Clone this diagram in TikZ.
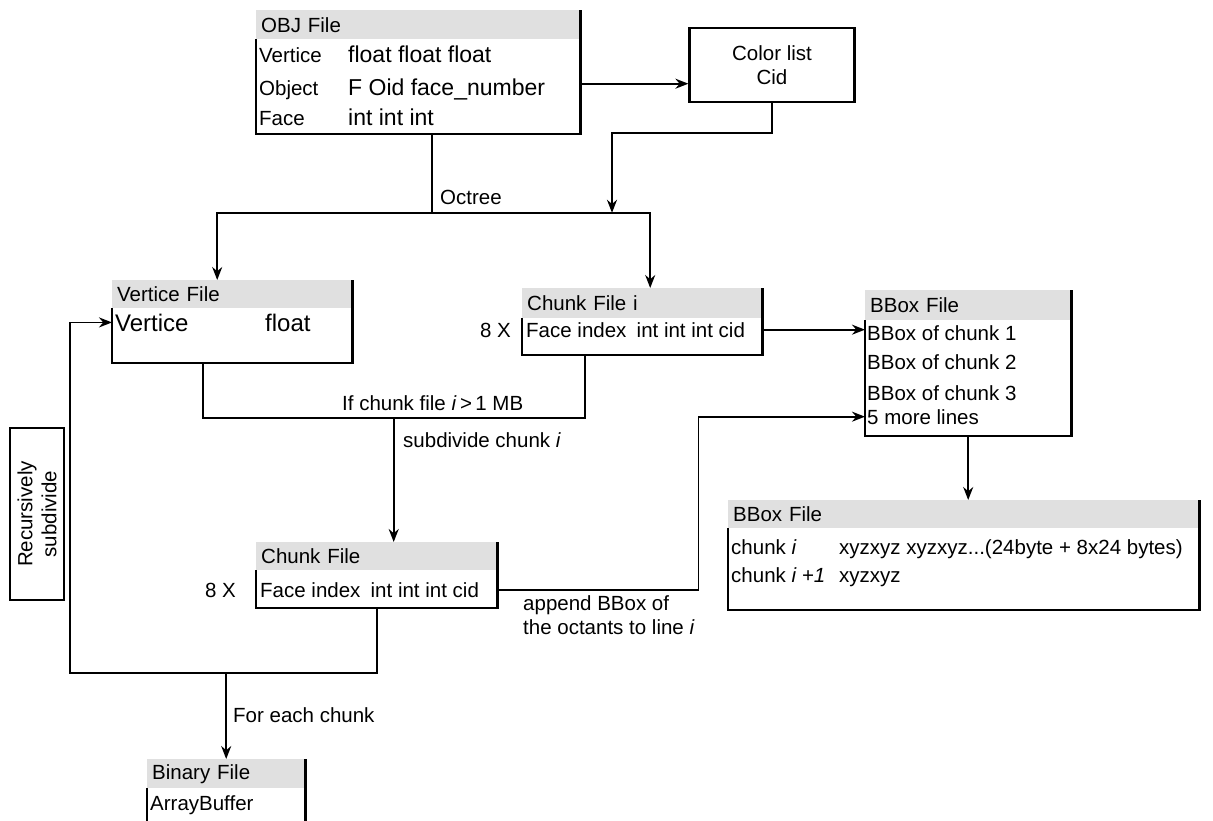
\documentclass[tikz,border=0pt]{standalone}
\usepackage{fontspec}
\setmainfont{Liberation Sans}
\usetikzlibrary{arrows.meta,positioning}
\definecolor{headgray}{HTML}{E0E0E0}
\newcommand{\fnorm}{\fontsize{20.5}{24}\selectfont}
\newcommand{\fmid}{\fontsize{23}{27}\selectfont}
\newcommand{\fbig}{\fontsize{24}{28}\selectfont}
\tikzset{
  head/.style={fill=headgray, anchor=north west, inner xsep=5pt, inner ysep=0pt,
    minimum height=29pt, align=left, font=\fnorm},
  body/.style={anchor=north west, inner sep=0pt},
  frame/.style={line width=2.2pt},
  txt/.style={anchor=base west, inner sep=0pt, font=\fnorm},
  midtxt/.style={anchor=base west, inner sep=0pt, font=\fmid},
  bigtxt/.style={anchor=base west, inner sep=0pt, font=\fbig},
  link/.style={line width=1.8pt},
  arr/.style={line width=1.8pt, -{Stealth[length=13pt,width=10pt]}},
}
\begin{document}
\begin{tikzpicture}[x=1pt,y=-1pt]
\useasboundingbox (0,0) rectangle (1213,820);
% OBJ file
\node[head, text width=314pt] (objh) at (256,10) {OBJ File};
\node[body, minimum width=324pt, minimum height=94pt] (obj) at (objh.south west) {};
\draw[frame] (obj.north west) -- (obj.south west) -- (obj.south east) -- (objh.north east);
\node[txt] (objv) at (259,62) {Vertice};
\node[midtxt] at (348,62) {float float float};
\node[txt] (objo) at (259,95) {Object};
\node[midtxt] at (348,95) {F Oid face\_number};
\node[txt] (objf) at (259,125) {Face};
\node[midtxt] at (348,125) {int int int};
% color list
\node[draw, frame, minimum width=165pt, minimum height=74pt, align=center, font=\fnorm] (color) at (772,65) {Color list\\Cid};
\draw[arr] ([yshift=6pt]objo.west -| obj.east) -- ([yshift=6pt]objo.west -| color.west);
% vertice file
\node[head, text width=230pt, minimum height=28pt] (verth) at (112,280) {Vertice File};
\node[body, minimum width=240pt, minimum height=54pt] (vert) at (verth.south west) {};
\draw[frame] (vert.north west) -- (vert.south west) -- (vert.south east) -- (verth.north east);
\node[bigtxt] (vertv) at (115,331) {Vertice};
\node[bigtxt] at (265,331) {float};
% chunk file i
\node[head, text width=230pt, minimum height=30pt] (chih) at (522,288) {Chunk File i};
\node[body, minimum width=240pt, minimum height=36pt] (chi) at (chih.south west) {};
\draw[frame] (chi.north west) -- (chi.south west) -- (chi.south east) -- (chih.north east);
\node[txt] (chiv) at (526,337) {Face index\hspace{0.5em}int int int cid};
\node[txt, anchor=base east] (chin) at (511,337) {8 X};
% bbox file
\node[head, text width=196pt, minimum height=30pt] (bbh) at (865,290) {BBox File};
\node[body, minimum width=206pt, minimum height=115pt] (bb) at (bbh.south west) {};
\draw[frame] (bb.north west) -- (bb.south west) -- (bb.south east) -- (bbh.north east);
\node[txt] (bb1) at (867,340) {BBox of chunk 1};
\node[txt] (bb2) at (867,369) {BBox of chunk 2};
\node[txt] (bb3) at (867,400) {BBox of chunk 3};
\node[txt] (bb4) at (867,424) {5 more lines};
% bbox file, lines
\node[head, text width=461pt, minimum height=28pt] (bbxh) at (728,500) {BBox File};
\node[body, minimum width=471pt, minimum height=81pt] (bbx) at (bbxh.south west) {};
\draw[frame] (bbx.north west) -- (bbx.south west) -- (bbx.south east) -- (bbxh.north east);
\node[txt] (bbx1) at (731,554) {chunk \textit{i}};
\node[txt] at (839,554) {xyzxyz xyzxyz...(24byte + 8x24 bytes)};
\node[txt] (bbx2) at (731,582) {chunk \textit{i +1}};
\node[txt] at (839,582) {xyzxyz};
% chunk file
\node[head, text width=231pt, minimum height=28pt] (chh) at (256,542) {Chunk File};
\node[body, minimum width=241pt, minimum height=37pt] (ch) at (chh.south west) {};
\draw[frame] (ch.north west) -- (ch.south west) -- (ch.south east) -- (chh.north east);
\node[txt] (chv) at (260,597) {Face index\hspace{0.5em}int int int cid};
\node[txt, anchor=base east] (chn) at (236,597) {8 X};
% binary file
\node[head, text width=148pt] (binh) at (147,759) {Binary File};
\node[body, minimum width=158pt, minimum height=32pt] (bin) at (binh.south west) {};
\draw[frame] (bin.north west) -- (bin.south west);
\draw[frame] (binh.north east) -- (bin.south east);
\node[txt] (binv) at (150,810) {ArrayBuffer};
% recursion note
\node[draw, frame, rotate=90, minimum width=172pt, minimum height=54pt, align=center, font=\fnorm] (rec) at (37,514) {Recursively\\subdivide};
% octree
\draw[link] ([xshift=14pt]obj.south) -- ++(0,79) coordinate (oct);
\node[txt] (octl) at (440,204) {Octree};
\draw[arr] (oct) -| ([xshift=-15pt]verth.north);
\draw[arr] (oct) -| ([xshift=8pt]chih.north);
\draw[arr] (color.south) -- ++(0,30) -| (oct -| 612,0);
% split
\draw[link] ([xshift=-29pt]vert.south) -- ++(0,55) coordinate (ifl) -| ([xshift=-57pt]chi.south);
\node[txt] (iflbl) at (342,410) {If chunk file \textit{i}\,>\,1 MB};
\draw[arr] ([xshift=17pt]chh.north |- ifl) -- ([xshift=17pt]chh.north);
\node[txt] (sublbl) at (403,447) {subdivide chunk \textit{i}};
\draw[arr] (chi.east |- chiv) -- (bb.west |- chiv);
\draw[arr] (bb.south) -- (bbxh.north -| bb.south);
% append
\draw[arr] (ch.east |- chv) -- ++(201,0) |- (bb.west |- bb4);
\node[txt, anchor=north west, align=left] (applbl) at (523,595) {append BBox of\\the octants to line \textit{i}};
% loop back
\coordinate (loopbl) at (70,673);
\draw[arr] (ch.south) |- (loopbl) |- (vert.west |- vertv);
\draw[arr] (loopbl -| binh.north) -- (binh.north);
\node[txt] (eachlbl) at (233,722) {For each chunk};
\end{tikzpicture}
\end{document}
